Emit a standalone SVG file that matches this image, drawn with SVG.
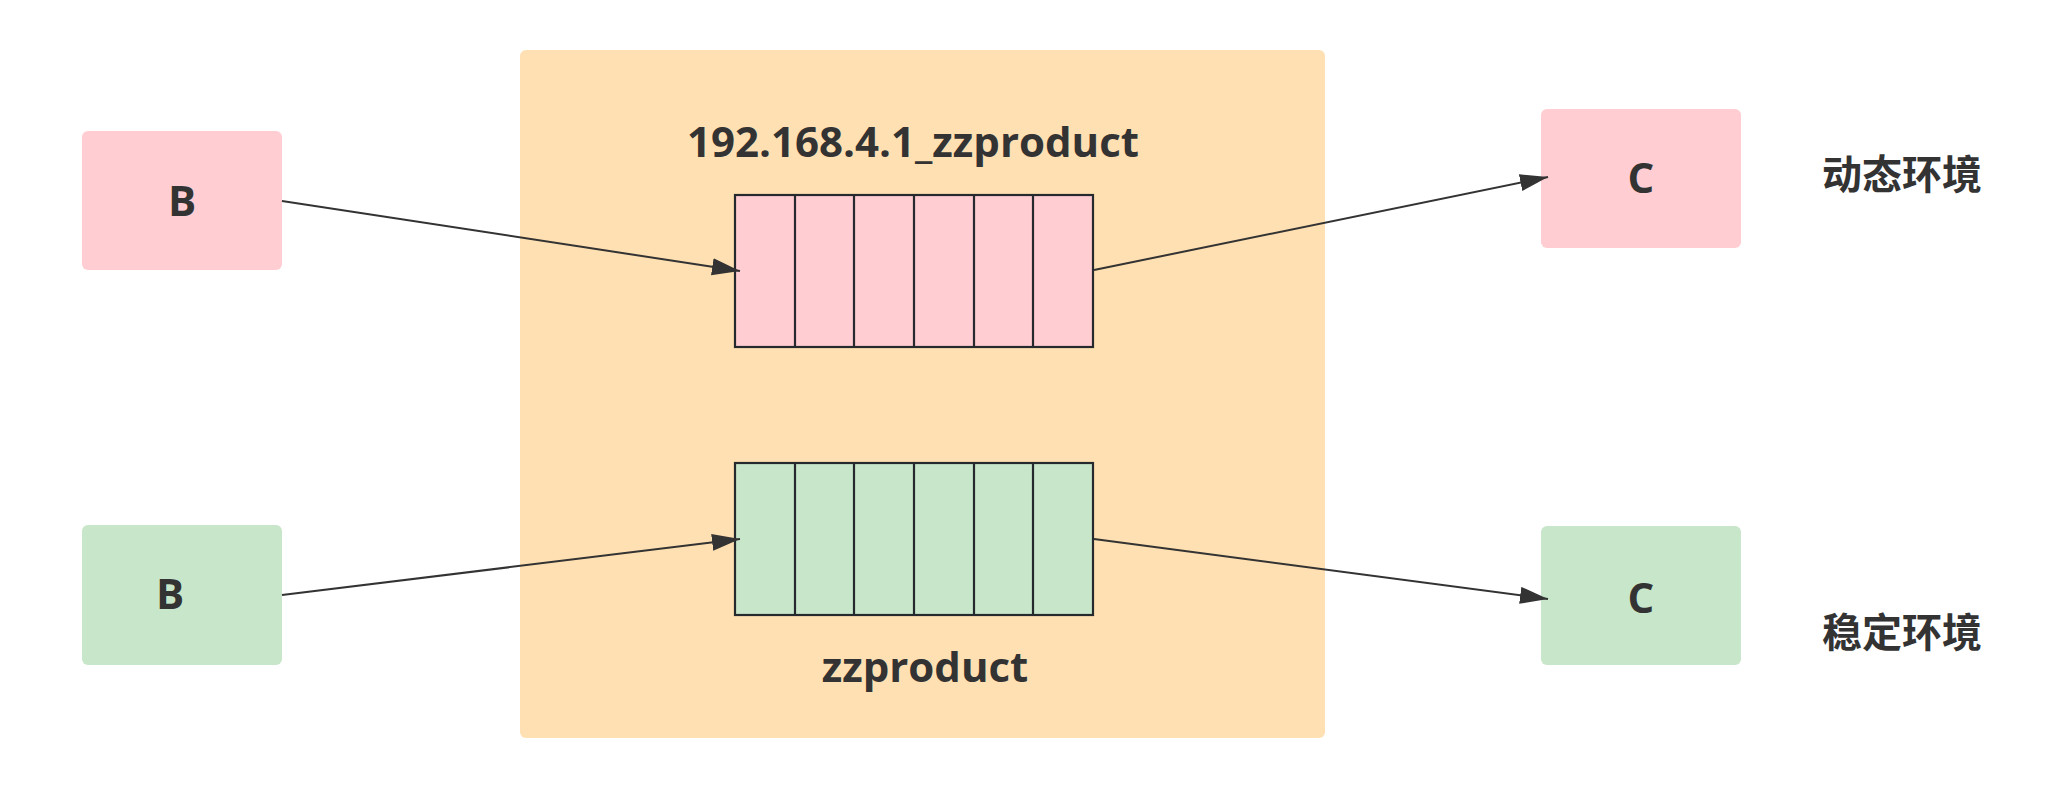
<svg xmlns="http://www.w3.org/2000/svg" width="2072" height="788" viewBox="0 0 2072 788">
<style>
.lat{font-family:"Open Sans","Liberation Sans",sans-serif;font-weight:700;fill:#333333;font-size:42px;text-anchor:middle}
.cjk{font-family:"Noto Sans CJK SC",sans-serif;font-weight:700;fill:#333333;font-size:40px;text-anchor:middle;dominant-baseline:central}
.pink{fill:#FFCDD2}
.green{fill:#C8E6C9}
.q{stroke:#262a2e;stroke-width:2.2}
.div{stroke:#262a2e;stroke-width:2.2}
.conn{stroke:#333333;stroke-width:2;fill:none;marker-end:url(#arr)}
</style>
<defs>
<marker id="arr" markerUnits="userSpaceOnUse" markerWidth="30" markerHeight="20" refX="28" refY="8.5" orient="auto">
<path d="M0,0 L28,8.5 L0,17 z" fill="#333333"/>
</marker>
</defs>
<rect width="2072" height="788" fill="#ffffff"/>
<g id="container">
<rect x="520" y="50" width="805" height="688" rx="6" fill="#FFE0B2"/>
<text class="lat" x="913" y="157">192.168.4.1_zzproduct</text>
<text class="lat" x="925" y="682">zzproduct</text>
</g>
<g id="queue-pink">
<rect class="pink q" x="735" y="195" width="358" height="152"/>
<line class="div" x1="795" y1="195" x2="795" y2="347"/>
<line class="div" x1="854" y1="195" x2="854" y2="347"/>
<line class="div" x1="914" y1="195" x2="914" y2="347"/>
<line class="div" x1="974" y1="195" x2="974" y2="347"/>
<line class="div" x1="1033" y1="195" x2="1033" y2="347"/>
</g>
<g id="queue-green">
<rect class="green q" x="735" y="463" width="358" height="152"/>
<line class="div" x1="795" y1="463" x2="795" y2="615"/>
<line class="div" x1="854" y1="463" x2="854" y2="615"/>
<line class="div" x1="914" y1="463" x2="914" y2="615"/>
<line class="div" x1="974" y1="463" x2="974" y2="615"/>
<line class="div" x1="1033" y1="463" x2="1033" y2="615"/>
</g>
<g id="b-pink">
<rect class="pink" x="82" y="131" width="200" height="139" rx="6"/>
<text class="lat" x="182" y="216">B</text>
</g>
<g id="b-green">
<rect class="green" x="82" y="525" width="200" height="140" rx="6"/>
<text class="lat" x="170" y="609">B</text>
</g>
<g id="c-pink">
<rect class="pink" x="1541" y="109" width="200" height="139" rx="6"/>
<text class="lat" x="1641" y="193">C</text>
</g>
<g id="c-green">
<rect class="green" x="1541" y="526" width="200" height="139" rx="6"/>
<text class="lat" x="1641" y="613">C</text>
</g>
<g id="label-dynamic">
<text class="cjk" x="1902" y="172">动态环境</text>
</g>
<g id="label-stable">
<text class="cjk" x="1902" y="630">稳定环境</text>
</g>
<g id="connectors">
<line class="conn" x1="282" y1="201" x2="740" y2="271"/>
<line class="conn" x1="1094" y1="270" x2="1548" y2="177"/>
<line class="conn" x1="282" y1="595" x2="740" y2="539"/>
<line class="conn" x1="1094" y1="539" x2="1548" y2="599"/>
</g>
</svg>
